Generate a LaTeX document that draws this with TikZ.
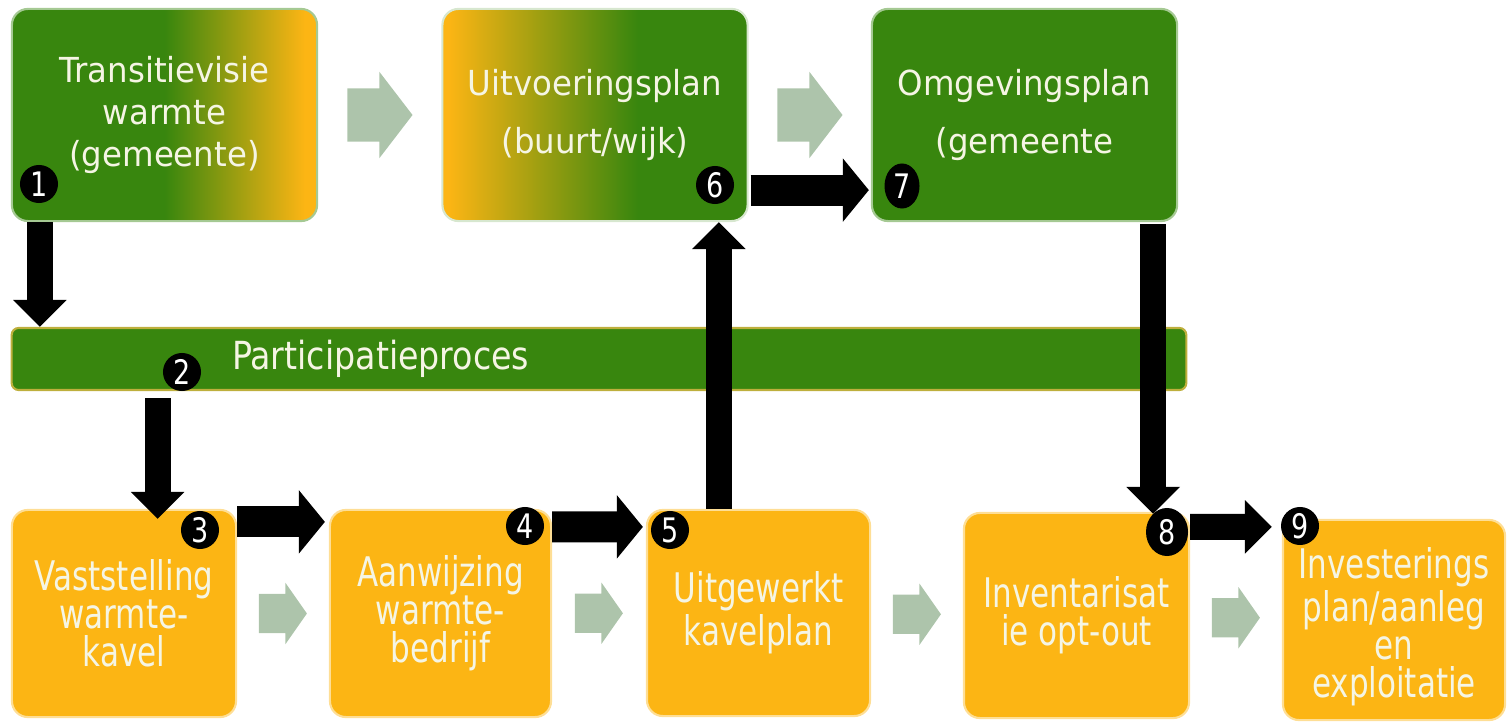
\documentclass[tikz,border=0pt]{standalone}
\usepackage{fontspec}
\setmainfont{DejaVu Sans}
\newfontfamily\topfont[FakeStretch=0.94]{DejaVu Sans}
\newfontfamily\botfont[FakeStretch=0.76]{DejaVu Sans}
\newfontfamily\barfont[FakeStretch=0.86]{DejaVu Sans}
\newfontfamily\numfont[FakeStretch=0.8]{DejaVu Sans}
\usetikzlibrary{shapes.arrows,shapes.geometric,arrows.meta,calc}
\definecolor{gr}{RGB}{56,134,14}
\definecolor{orng}{RGB}{252,181,20}
\definecolor{garr}{RGB}{173,196,171}
\definecolor{txt}{RGB}{245,245,228}
\definecolor{barline}{RGB}{190,175,60}
\pgfdeclarehorizontalshading{gradA}{100bp}{color(0bp)=(gr); color(25bp)=(gr); color(50bp)=(gr); color(73bp)=(orng); color(100bp)=(orng)}
\pgfdeclarehorizontalshading{gradB}{100bp}{color(0bp)=(orng); color(26bp)=(orng); color(57bp)=(gr); color(100bp)=(gr)}
\tikzset{
  box/.style={rounded corners=0.16cm, line width=0.6pt, inner sep=0pt, align=center, text=txt},
  topbox/.style={box, minimum width=3.05cm, minimum height=2.12cm, draw=gr!45!white},
  botbox/.style={box, fill=orng, draw=orng!45!white, font=\botfont\fontsize{11.6}{10.8}\selectfont},
  num/.style={circle, fill=black, text=white, font=\numfont\fontsize{9.6}{9.6}\selectfont, inner sep=0pt, minimum size=0.38cm},
  garrow/.style={single arrow, fill=garr, draw=none, inner xsep=0pt, single arrow head indent=0pt},
  garrowtop/.style={garrow, xshift=-0.1cm, inner ysep=0.26cm, minimum height=0.65cm, single arrow head extend=0.165cm, single arrow tip angle=105},
  garrowbot/.style={garrow, xshift=-0.07cm, inner ysep=0.19cm, minimum height=0.48cm, single arrow head extend=0.11cm, single arrow tip angle=110},
  blk/.style={draw=black, line width=0.26cm, -{Triangle[length=0.27cm, width=0.52cm]}},
  blkthick/.style={draw=black, line width=0.31cm, -{Triangle[length=0.26cm, width=0.62cm]}}
}
\begin{document}
\begin{tikzpicture}[x=0.01cm, y=-0.01cm]
\useasboundingbox (0,0) rectangle (1507,722);
% top row
\node[topbox, shading=gradA, font=\topfont\fontsize{9.8}{12}\selectfont] (b1) at (164.5,115) {Transitievisie\\warmte\\(gemeente)};
\node[topbox, shading=gradB, draw=white!80!gr, font=\topfont\fontsize{9.8}{16.5}\selectfont] (b6) at (595,115) {Uitvoeringsplan\\(buurt/wijk)};
\node[topbox, fill=gr, font=\topfont\fontsize{9.8}{16.5}\selectfont] (b7) at (1024.5,115) {Omgevingsplan\\(gemeente};
% bar
\node[box, fill=gr, draw=barline, rounded corners=0.07cm, minimum width=11.74cm, minimum height=0.62cm] (bar) at (599,359) {};
\node[text=txt, font=\barfont\fontsize{11}{12}\selectfont, inner sep=0pt] (bartxt) at ($(bar.west)+(370,0)$) {Participatieproces};
% bottom row
\node[botbox, minimum width=2.24cm, minimum height=2.07cm] (b3) at (124,613.5) {Vaststelling\\warmte-\\kavel};
\node[botbox, minimum width=2.21cm, minimum height=2.07cm] (b4) at (440.5,613.5) {Aanwijzing\\warmte-\\bedrijf};
\node[botbox, minimum width=2.23cm, minimum height=2.06cm] (b5) at (758.5,613) {Uitgewerkt\\kavelplan};
\node[botbox, minimum width=2.25cm, minimum height=2.05cm] (b8) at (1076.5,615.5) {Inventarisat\\ie opt-out};
\node[botbox, minimum width=2.22cm, minimum height=2.00cm] (b9) at (1394,620) {\rule{0pt}{0.44cm}Investerings\\plan/aanleg\\en\\exploitatie};
% grey flow arrows
\node[garrowtop] (g1) at ($(b1.east)!0.5!(b6.west)$) {};
\node[garrowtop] (g2) at ($(b6.east)!0.5!(b7.west)$) {};
\node[garrowbot] (g3) at ($(b3.east)!0.5!(b4.west)$) {};
\node[garrowbot] (g4) at ($(b4.east)!0.5!(b5.west)$) {};
\node[garrowbot] (g5) at ($(b5.east)!0.5!(b8.west)$) {};
\node[garrowbot] (g6) at ($(b8.east)!0.5!(b9.west)$) {};
% black arrows
\draw[blk] ($(b1.south west)+(29,0)$) -- ($(b1.south west |- bar.north)+(29,0)$);
\draw[blk] ($(bar.south west)+(147,7)$) -- ($(bar.south west |- b3.north)+(147,10)$);
\draw[blkthick] ($(b3.north east)+(0,13)$) -- ($(b4.north west)+(-4,13)$);
\draw[blkthick] ($(b4.north east)+(0,18)$) -- ($(b5.north west)+(-3,18)$);
\draw[blk] ($(b5.north west)+(73,0)$) -- ($(b5.north west |- b6.south)+(73,0)$);
\draw[blkthick] ($(b6.south east)+(2,-32)$) -- ($(b7.south west)+(-2,-32)$);
\draw[blk] ($(b7.south east)+(-25,2)$) -- ($(b7.south east |- b8.north)+(-25,2)$);
\draw[blk] ($(b8.north east)+(0,15)$) -- ($(b9.north west)+(-10,8)$);
% numbers
\node[num] (n1) at (39,184) {1};
\node[num] (n2) at (182,372) {2};
\node[num] (n3) at (200,530) {3};
\node[num] (n4) at (525,526) {4};
\node[num] (n5) at (670,530) {5};
\node[num] (n6) at (715,185) {6};
\node[num, ellipse, minimum width=0.35cm, minimum height=0.45cm] (n7) at (902,186) {7};
\node[num, ellipse, minimum width=0.42cm, minimum height=0.48cm] (n8) at (1167,532) {8};
\node[num] (n9) at (1300,526) {9};
\end{tikzpicture}
\end{document}
